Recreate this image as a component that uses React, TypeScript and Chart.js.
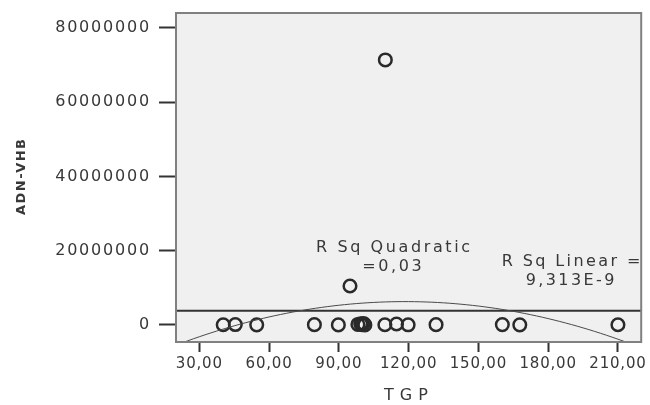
import { useEffect, useRef } from 'react';
import { Chart, registerables } from 'chart.js';

Chart.register(...registerables);

// Observed cases (TGP vs ADN-VHB)
const TGP = [40.3, 45.5, 54.7, 79.5, 89.8, 98.2, 99.4, 100.0, 100.6, 101.2, 109.8, 114.8, 119.8, 131.8, 160.3, 167.8, 210.0, 94.8, 110.0];
const ADN_VHB = [60000, 120000, 40000, 90000, 30000, 150000, 350000, 80000, 420000, 20000, 70000, 260000, 50000, 90000, 110000, 40000, 70000, 10500000, 71400000];

const X_TICKS = [30, 60, 90, 120, 150, 180, 210];
const Y_TICKS = [0, 20000000, 40000000, 60000000, 80000000];

// Fit lines
const LINEAR_FIT = { intercept: 3850000, slope: 0 };
const QUAD_FIT = { c0: -10677000, c1: 286533, c2: -1209 };

const LABEL_QUAD = ['R Sq Quadratic', '=0,03'];
const LABEL_LINEAR = ['R Sq Linear =', '9,313E-9'];
const X_TITLE = 'TGP';
const Y_TITLE = 'ADN-VHB';

const X_MIN = 20;
const X_MAX = 220;
const Y_MIN = -4580000;
const Y_MAX = 84040000;

const TEXT = '#383838';
const FONT = 'DejaVu Sans';

function drawText(ctx: any, s: string, x: number, y: number, font: string, spacing: number) {
  ctx.save();
  ctx.font = font;
  ctx.letterSpacing = spacing + 'px';
  ctx.fillStyle = TEXT;
  ctx.textAlign = 'center';
  ctx.textBaseline = 'middle';
  ctx.fillText(s, x + spacing / 2, y);
  ctx.restore();
}

function spaceLabels(scale: any, spacing: number) {
  if (!scale || scale.__spaced) return;
  const orig = scale.drawLabels;
  scale.drawLabels = function (area: any) {
    const ctx = this.ctx;
    const prev = ctx.letterSpacing;
    ctx.letterSpacing = spacing + 'px';
    orig.call(this, area);
    ctx.letterSpacing = prev;
  };
  scale.__spaced = true;
}

const decorPlugin = {
  id: 'decor',
  afterLayout(chart: any) {
    spaceLabels(chart.scales.x, 0.8);
    spaceLabels(chart.scales.y, 1.8);
  },
  beforeDraw(chart: any) {
    const { ctx, chartArea: a } = chart;
    ctx.save();
    ctx.fillStyle = '#f0f0f0';
    ctx.fillRect(a.left, a.top, a.right - a.left, a.bottom - a.top);
    ctx.restore();
  },
  afterDraw(chart: any) {
    const { ctx, chartArea: a } = chart;
    ctx.save();
    ctx.strokeStyle = '#808080';
    ctx.lineWidth = 2;
    ctx.strokeRect(a.left, a.top, a.right - a.left, a.bottom - a.top);
    ctx.restore();

    const f = `16px "${FONT}"`;
    drawText(ctx, LABEL_QUAD[0], 393, 248, f, 2.6);
    drawText(ctx, LABEL_QUAD[1], 392, 267, f, 2.6);
    drawText(ctx, LABEL_LINEAR[0], 571, 262, f, 2.4);
    drawText(ctx, LABEL_LINEAR[1], 570, 281, f, 2.4);

    drawText(ctx, X_TITLE, 406, 396, `16px "${FONT}"`, 6);

    ctx.save();
    ctx.translate(22, 177);
    ctx.rotate(-Math.PI / 2);
    drawText(ctx, Y_TITLE, 0, 0, `bold 13px "${FONT}"`, 1.5);
    ctx.restore();
  },
};

export default function App() {
  const ref = useRef<HTMLCanvasElement | null>(null);

  useEffect(() => {
    if (!ref.current) return;
    const points = TGP.map((x, i) => ({ x, y: ADN_VHB[i] }));
    const fitX = Array.from({ length: 81 }, (_, i) => X_MIN + i * 2.5);
    const linear = [X_MIN, X_MAX].map((x) => ({ x, y: LINEAR_FIT.intercept + LINEAR_FIT.slope * x }));
    const quad = fitX.map((x) => ({ x, y: QUAD_FIT.c0 + QUAD_FIT.c1 * x + QUAD_FIT.c2 * x * x }));

    const chart = new Chart(ref.current, {
      type: 'scatter',
      data: {
        datasets: [
          {
            data: quad,
            showLine: true,
            borderColor: '#4a4a4a',
            borderWidth: 1,
            pointRadius: 0,
            fill: false,
          } as any,
          {
            data: linear,
            showLine: true,
            borderColor: '#333333',
            borderWidth: 2,
            pointRadius: 0,
            fill: false,
          } as any,
          {
            data: points,
            pointStyle: 'circle',
            pointRadius: 6.3,
            pointBorderWidth: 2.5,
            borderColor: '#2a2a2a',
            backgroundColor: 'rgba(0,0,0,0)',
          } as any,
        ],
      },
      options: {
        animation: false,
        responsive: false,
        events: [],
        layout: { padding: { top: 13, right: 8.5, left: 0, bottom: 0 } },
        plugins: { legend: { display: false }, tooltip: { enabled: false } },
        scales: {
          x: {
            type: 'linear',
            min: X_MIN,
            max: X_MAX,
            afterBuildTicks: (s: any) => {
              s.ticks = X_TICKS.map((v) => ({ value: v }));
            },
            afterFit: (s: any) => {
              s.height = 63;
              s.paddingLeft = 0;
              s.paddingRight = 0;
            },
            ticks: {
              autoSkip: false,
              maxRotation: 0,
              padding: 3,
              color: TEXT,
              font: { family: FONT, size: 15 },
              callback: (v: any) => Number(v).toFixed(2).replace('.', ','),
            },
            grid: { drawOnChartArea: false, drawTicks: true, tickLength: 10, tickWidth: 2, tickColor: '#333333' },
            border: { display: false },
          },
          y: {
            type: 'linear',
            min: Y_MIN,
            max: Y_MAX,
            afterBuildTicks: (s: any) => {
              s.ticks = Y_TICKS.map((v) => ({ value: v }));
            },
            afterFit: (s: any) => {
              s.width = 176;
              s.paddingTop = 0;
              s.paddingBottom = 0;
            },
            ticks: {
              autoSkip: false,
              padding: 8,
              color: TEXT,
              font: { family: FONT, size: 16 },
              callback: (v: any) => String(v),
            },
            grid: { drawOnChartArea: false, drawTicks: true, tickLength: 17, tickWidth: 2, tickColor: '#333333' },
            border: { display: false },
          },
        },
      },
      plugins: [decorPlugin],
    } as any);
    return () => chart.destroy();
  }, []);

  return (
    <div style={{ position: 'fixed', left: 0, top: 0, width: 650, height: 405, background: '#fff' }}>
      <canvas ref={ref} width={650} height={405} />
    </div>
  );
}
